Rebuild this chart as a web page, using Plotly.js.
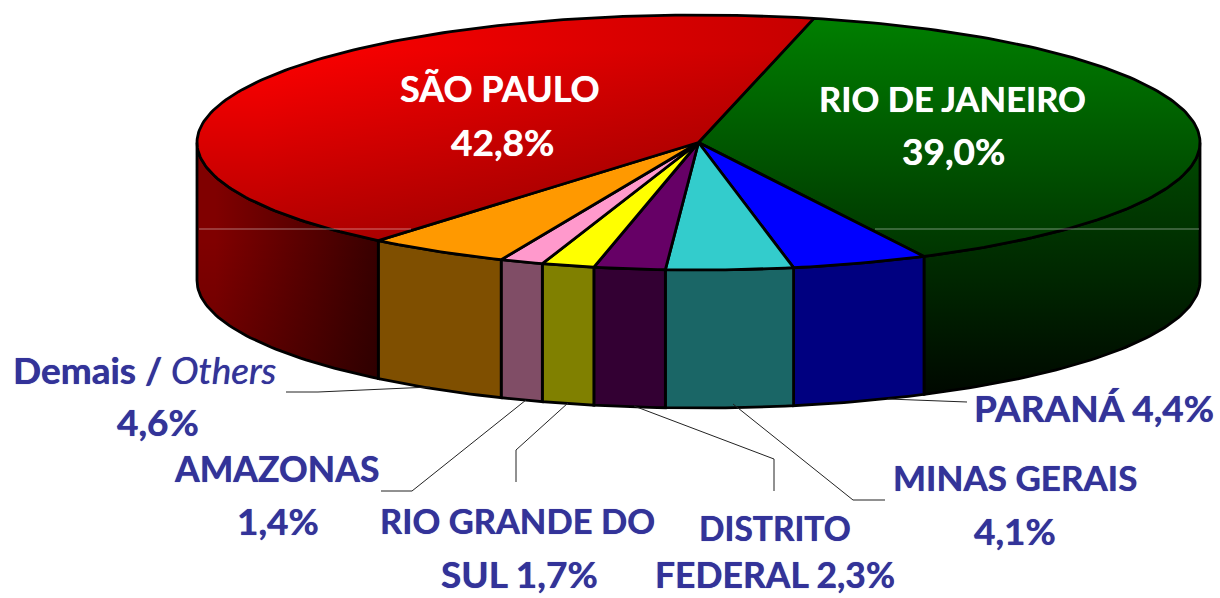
<!DOCTYPE html>
<html><head><meta charset="utf-8">
<script src="https://cdn.plot.ly/plotly-3.0.1.min.js"></script>
<style>html,body{margin:0;padding:0;background:#fff}#c{width:1220px;height:598px}</style>
</head><body><div id="c"></div>
<script>
// --- data (clockwise from the Rio / São Paulo border)
var states = ["RIO DE JANEIRO","PARANÁ","MINAS GERAIS","DISTRITO FEDERAL","RIO GRANDE DO SUL","AMAZONAS","Demais / Others","SÃO PAULO"];
var shares = [39.0,4.4,4.1,2.3,1.7,1.4,4.6,42.8];
var topColors  = ["#008000","#0000FF","#33CCCC","#660066","#FFFF00","#FF99CC","#FF9900","#FF0000"];
var wallColors = ["#003300","#000080","#1A6666","#330033","#808000","#804D66","#7F4F00","#600000"];

// --- geometry of the drawn disc
var cx=698.5, cy=142.5, rx=501.5, ry=127.5, depth=138, startDeg=13.3;
var total = shares.reduce(function(a,b){return a+b;},0);
function pt(d,dy){var r=d*Math.PI/180;return [cx+rx*Math.sin(r), cy-ry*Math.cos(r)+(dy||0)];}
function arc(a,b,dy){var out=[],n=Math.max(2,Math.ceil(Math.abs(b-a)/1.0));for(var i=0;i<=n;i++){out.push(pt(a+(b-a)*i/n,dy));}return out;}
function poly(points,extra,lineW){
  var t={type:"scatter",mode:"lines",x:points.map(function(p){return p[0];}),y:points.map(function(p){return p[1];}),
    fill:"toself",hoverinfo:"skip",showlegend:false,line:{color:lineW?"#000":"rgba(0,0,0,0)",width:lineW||0,shape:"linear"}};
  for(var k in extra)t[k]=extra[k];
  return t;
}
function grad(type,start,stop,c0,c1){return {fillgradient:{type:type,start:start,stop:stop,colorscale:[[0,c0],[1,c1]]}};}

var walls=[],tops=[],ang=startDeg;
shares.forEach(function(v,i){
  var a=ang,b=ang+v/total*360;ang=b;
  var center=[[cx,cy]];
  var topPts=center.concat(arc(a,b)).concat(center);
  if(i===0){ // Rio de Janeiro
    tops.push(poly(topPts,grad("vertical",15,258,"#008000","#003400"),2.8));
  }else if(i===shares.length-1){ // São Paulo
    tops.push(poly(topPts,grad("horizontal",260,800,"#FF0000","#C80000"),0));
    tops.push(poly(topPts,grad("vertical",50,240,"rgba(0,0,0,0)","rgba(0,0,0,0.3)"),2.8));
  }else{
    tops.push(poly(topPts,{fillcolor:topColors[i]},2.8));
  }
  var wa=Math.max(a,90),wb=Math.min(b,270);
  if(wb>wa){
    var w=arc(wa,wb,0).concat(arc(wb,wa,depth));w.push(w[0]);
    if(i===0){
      walls.push(poly(w,grad("vertical",150,395,"#004800","#000800"),2.8));
    }else if(i===shares.length-1){
      walls.push(poly(w,grad("horizontal",215,378,"#800000","#380000"),0));
      walls.push(poly(w,grad("vertical",240,390,"rgba(0,0,0,0)","rgba(0,0,0,0.2)"),2.8));
    }else{
      walls.push(poly(w,{fillcolor:wallColors[i]},2.8));
    }
  }
});

// --- labels: text, x, y, colour, font size
function pct(i){return shares[i].toFixed(1).replace(".",",")+"%";}
var ink="#333399";
var labels=[
 ["<b>"+states[7]+"</b>",500,88,"#fff",36],["<b>"+pct(7)+"</b>",502,141,"#fff",37],
 ["<b>"+states[0]+"</b>",952,98,"#fff",34.5],["<b>"+pct(0)+"</b>",953,150,"#fff",37],
 ["<b>Demais /</b>",87,369,ink,37],["<i>Others</i>",223,369,ink,37],["<b>"+pct(6)+"</b>",158,421,ink,37],
 ["<b>"+states[5]+"</b>",276,468,ink,35.6],["<b>"+pct(5)+"</b>",278,520,ink,37],
 ["<b>RIO GRANDE DO</b>",517,520,ink,34.5],["<b>SUL "+pct(4)+"</b>",519,573,ink,37],
 ["<b>DISTRITO</b>",775,528,ink,33.5],["<b>FEDERAL "+pct(3)+"</b>",775,574,ink,35.5],
 ["<b>"+states[2]+"</b>",1015,477,ink,35],["<b>"+pct(2)+"</b>",1015,530,ink,37],
 ["<b>"+states[1]+" "+pct(1)+"</b>",1094,407,ink,37]
];
var annotations=labels.map(function(l){return {x:l[1],y:l[2],xref:"x",yref:"y",text:l[0],showarrow:false,xanchor:"center",yanchor:"middle",
  font:{family:"Lato, Carlito, sans-serif",size:l[4],color:l[3],shadow:"0 0 0.7px "+l[3]}};});

// --- leader lines
var leaders=[
 [[286,392],[318,392],[430,387]],
 [[381,491],[412,491],[526,400]],
 [[516,482],[516,450],[568,403]],
 [[774,491],[774,459],[634,406]],
 [[885,500],[853,500],[733,404]],
 [[888,399],[967,402]]
];
var shapes=leaders.map(function(p){return {type:"path",xref:"x",yref:"y",path:"M"+p.map(function(q){return q[0]+","+q[1];}).join("L"),line:{color:"#222",width:1}};});
shapes.push({type:"line",xref:"x",yref:"y",x0:199,x1:411,y0:229,y1:229,line:{color:"rgba(255,255,255,0.45)",width:1}});
shapes.push({type:"line",xref:"x",yref:"y",x0:875,x1:1199,y0:229,y1:229,line:{color:"rgba(255,255,255,0.45)",width:1}});

Plotly.newPlot("c",walls.concat(tops),{
  width:1220,height:598,margin:{l:0,r:0,t:0,b:0},paper_bgcolor:"#fff",plot_bgcolor:"#fff",showlegend:false,
  xaxis:{range:[0,1220],visible:false,fixedrange:true},
  yaxis:{range:[598,0],visible:false,fixedrange:true},
  annotations:annotations,shapes:shapes
},{displayModeBar:false,staticPlot:true});
</script></body></html>
